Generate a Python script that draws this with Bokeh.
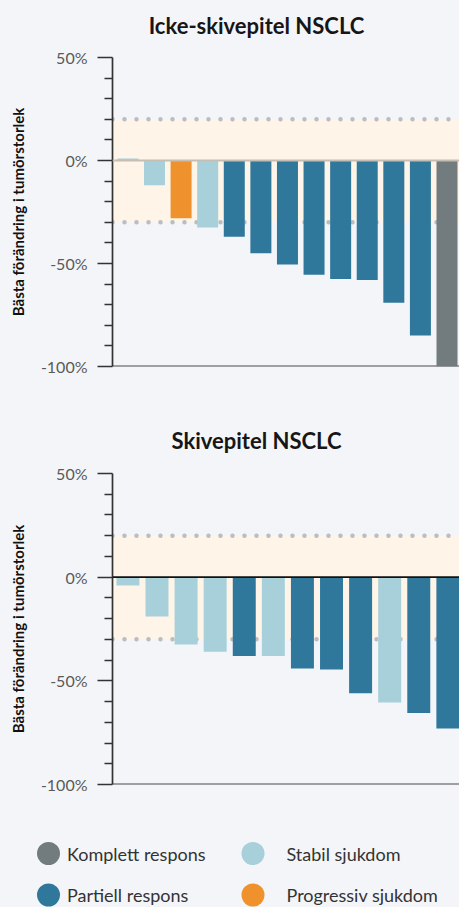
from bokeh.plotting import figure
from bokeh.models import Range1d, FixedTicker, Span, BoxAnnotation, ColumnDataSource, GlobalInlineStyleSheet
from bokeh.layouts import column
from bokeh.embed import file_html
from bokeh.resources import INLINE
from bokeh.core.properties import value

# ---------------- data ----------------
titles = ["Icke-skivepitel NSCLC", "Skivepitel NSCLC"]
y_label = "Bästa förändring i tumörstorlek"
y_ticks = [-100, -50, 0, 50]
y_tick_labels = ["-100%", "-50%", "0%", "50%"]
y_minor_ticks = [-90, -80, -70, -60, -40, -30, -20, -10, 10, 20, 30, 40]
band_low = -30
band_high = 20

top_status = ["SD", "SD", "PD", "SD", "PR", "PR", "PR", "PR", "PR", "PR", "PR", "PR", "CR"]
top_values = [1, -12, -28, -32.5, -37, -45, -50.5, -55.5, -57.5, -58, -69, -85, -100]

bottom_status = ["SD", "SD", "SD", "SD", "PR", "SD", "PR", "PR", "PR", "SD", "PR", "PR"]
bottom_values = [-4, -19, -32.5, -36, -38, -38, -44, -44.5, -56, -60.5, -65.5, -73]

legend_status = ["CR", "SD", "PR", "PD"]
legend_labels = ["Komplett respons", "Stabil sjukdom", "Partiell respons", "Progressiv sjukdom"]

colors = {"CR": "#727b7d", "SD": "#a7d0da", "PR": "#2f789c", "PD": "#ef922d"}

BG = "#f4f5f9"
BAND = "#fef5e8"
DOTS = "#babdc2"
FONT = "Lato"
W = 459


def blank(height):
    f = figure(width=W, height=height, output_backend="svg", toolbar_location=None,
               x_range=Range1d(0, W), y_range=Range1d(0, height),
               min_border=0, x_axis_location=None, y_axis_location=None)
    f.background_fill_color = BG
    f.border_fill_color = BG
    f.outline_line_color = None
    f.grid.visible = False
    return f


def make_title(text, height, baseline_from_top):
    f = blank(height)
    f.text(x=[256], y=[height - baseline_from_top], text=[text], text_align="center",
           text_baseline="alphabetic", text_font=value(FONT), text_font_style="bold",
           text_font_size="22px", text_color="#161616")
    return f


def make_chart(status, values, height, border_top, border_bottom, x_range, zero_color, zero_width):
    p = figure(width=W, height=height, output_backend="svg", toolbar_location=None,
               x_range=Range1d(*x_range), y_range=Range1d(-100, 50),
               min_border_left=112, min_border_right=0,
               min_border_top=border_top, min_border_bottom=border_bottom,
               x_axis_location=None)
    p.background_fill_color = BG
    p.border_fill_color = BG
    p.outline_line_color = None
    p.grid.visible = False

    p.add_layout(BoxAnnotation(bottom=band_low, top=band_high, fill_color=BAND, fill_alpha=1,
                               line_color=None, level="underlay"))
    for loc in (band_high, band_low):
        p.add_layout(Span(location=loc, dimension="width", line_color=DOTS, line_width=4.5,
                          line_dash="0 12", line_cap="round", level="underlay"))
    p.add_layout(Span(location=-100, dimension="width", line_color="#4a4a4a", line_width=2,
                      level="underlay"))

    xs = list(range(1, len(values) + 1))
    src = ColumnDataSource(dict(x=xs, top=values, color=[colors[s] for s in status]))
    p.vbar(x="x", top="top", bottom=0, width=0.79, fill_color="color", line_color=None, source=src)

    p.add_layout(Span(location=0, dimension="width", line_color=zero_color, line_width=zero_width))

    ax = p.yaxis[0]
    ax.ticker = FixedTicker(ticks=y_ticks, minor_ticks=y_minor_ticks)
    ax.major_label_overrides = {t: l for t, l in zip(y_ticks, y_tick_labels)}
    ax.axis_line_color = "#333333"
    ax.axis_line_width = 1.7
    ax.major_tick_line_color = "#333333"
    ax.major_tick_line_width = 1.7
    ax.minor_tick_line_color = "#333333"
    ax.minor_tick_line_width = 1.7
    ax.major_tick_out = 15
    ax.major_tick_in = 0
    ax.minor_tick_out = 8
    ax.minor_tick_in = 0
    ax.major_label_standoff = 10
    ax.major_label_text_font = FONT
    ax.major_label_text_font_size = "16px"
    ax.major_label_text_color = "#5a5a5a"
    ax.axis_label = y_label
    ax.axis_label_text_font = FONT
    ax.axis_label_text_font_style = "bold"
    ax.axis_label_text_font_size = "15px"
    ax.axis_label_text_color = "#111111"
    ax.axis_label_standoff = 11
    return p


t1 = make_title(titles[0], 46, 25)
p1 = make_chart(top_status, top_values, 340, 11, 20, (0.42, 13.47), "#c4beb5", 2)
t2 = make_title(titles[1], 76, 53.5)
p2 = make_chart(bottom_status, bottom_values, 338, 11, 16, (0.47, 12.4), "#111111", 1.6)

# legend
leg = blank(107)
leg_x = [48, 252.5, 48, 252.5]
leg_y = [54, 54, 12.5, 12.5]
leg_tx = [66.5, 286, 66.5, 286]
lsrc = ColumnDataSource(dict(x=leg_x, y=leg_y, tx=leg_tx, label=legend_labels,
                             color=[colors[s] for s in legend_status]))
leg.scatter(x="x", y="y", size=23, fill_color="color", line_color=None, source=lsrc)
leg.text(x="tx", y="y", text="label", source=lsrc, text_font=value(FONT), text_font_size="18px",
         text_baseline="middle", text_align="left", text_color="#333333")

layout = column(column(t1), p1, column(t2), p2, column(leg), spacing=0,
                stylesheets=[GlobalInlineStyleSheet(css="html, body { background-color: #f4f5f9; overflow: hidden; }")])

open("out.html", "w").write(file_html(layout, INLINE))
